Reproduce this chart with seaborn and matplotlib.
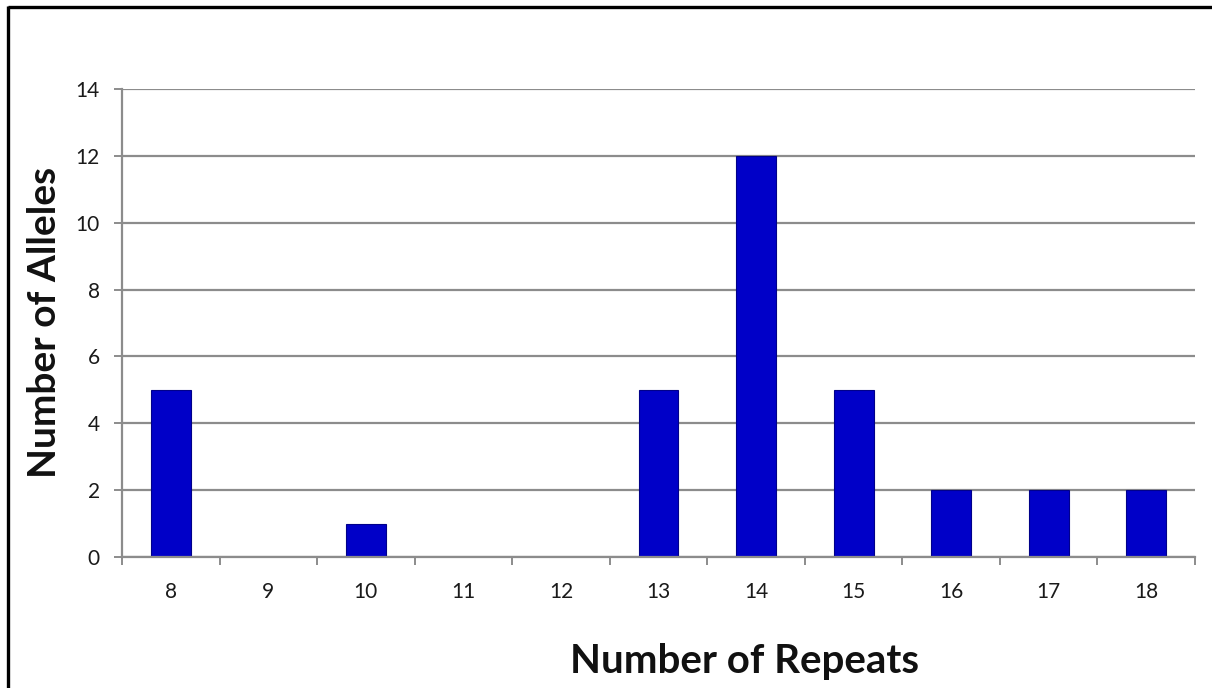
import matplotlib
matplotlib.use("Agg")
import matplotlib.pyplot as plt
from matplotlib.lines import Line2D
import numpy as np
import pandas as pd
import seaborn as sns

# Allele counts per repeat number
repeats = ["8", "9", "10", "11", "12", "13", "14", "15", "16", "17", "18"]
alleles = [5, 0, 1, 0, 0, 5, 12, 5, 2, 2, 2]

df = pd.DataFrame({"repeats": repeats, "alleles": alleles})

sns.set_style("white")
plt.rcParams["font.family"] = ["Lato", "DejaVu Sans"]

W, H = 1212, 688
fig = plt.figure(figsize=(W / 100, H / 100), dpi=100)
ax = fig.add_axes([122 / W, 1 - 557 / H, (1195 - 122) / W, (557 - 89) / H])

sns.barplot(data=df, x="repeats", y="alleles", order=repeats, color="#0000C8",
            width=0.41, saturation=1, edgecolor="#00008A", linewidth=0.8, ax=ax)

grid_c = "#8c8c8c"
ax.set_ylim(0, 14)
ax.set_xlim(-0.5, len(repeats) - 0.5)
ax.set_yticks(np.arange(0, 15, 2))
ax.yaxis.grid(True, color=grid_c, linewidth=1.6)
ax.set_axisbelow(True)

for side in ("top", "right"):
    ax.spines[side].set_visible(False)
for side in ("left", "bottom"):
    ax.spines[side].set_color(grid_c)
    ax.spines[side].set_linewidth(1.6)

ax.tick_params(axis="y", which="major", length=6, width=1.4, color=grid_c,
               labelsize=15, labelcolor="#1a1a1a", pad=10, left=True)
ax.tick_params(axis="x", which="major", length=0, labelsize=15,
               labelcolor="#1a1a1a", pad=18)
ax.set_xticks(np.arange(-0.5, len(repeats), 1.0), minor=True)
ax.tick_params(axis="x", which="minor", length=6, width=1.4, color=grid_c,
               bottom=True)

ax.set_xlabel("")
ax.set_ylabel("")
fig.text(745 / W, 1 - 662 / H, "Number of Repeats", fontsize=29, fontweight="bold",
         color="#111111", ha="center", va="center")
fig.text(45 / W, 1 - 322 / H, "Number of Alleles", fontsize=28, fontweight="bold",
         color="#111111", ha="center", va="center", rotation=90)

# Outer frame on the left and top edges
fig.add_artist(Line2D([8 / W, 8 / W], [0, 1 - 6 / H], transform=fig.transFigure,
                      color="black", linewidth=2.4, solid_capstyle="butt"))
fig.add_artist(Line2D([8 / W, 1], [1 - 7 / H, 1 - 7 / H], transform=fig.transFigure,
                      color="black", linewidth=2.4, solid_capstyle="butt"))

fig.savefig("out.png", dpi=100, facecolor="white")
